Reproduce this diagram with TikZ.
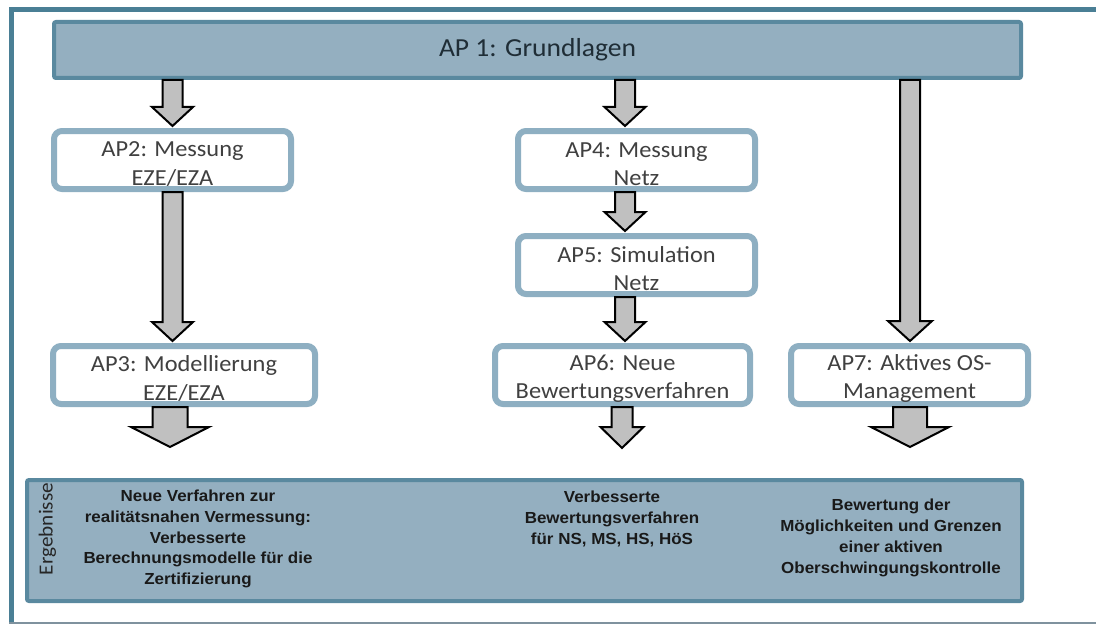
\documentclass[tikz,border=0pt]{standalone}
\usepackage{fontspec}
\setmainfont{Carlito}[FakeStretch=1.06]
\newfontfamily\resfont{Liberation Sans}[FakeStretch=1.06]
\usetikzlibrary{calc}
\definecolor{framec}{HTML}{4A7F95}
\definecolor{framebot}{HTML}{7F929E}
\definecolor{apfill}{HTML}{94AFC0}
\definecolor{apdraw}{HTML}{5A899F}
\definecolor{boxdraw}{HTML}{8EAFC2}
\definecolor{boxtext}{HTML}{404040}
\definecolor{toptext}{HTML}{1F2D36}
\definecolor{arrfill}{HTML}{C0C0C0}
\newcommand{\tstrut}{\rule{0pt}{23pt}}
\tikzset{
  apbox/.style={draw=boxdraw, line width=6pt, rounded corners=8pt, fill=white,
    text=boxtext, font=\fontsize{23}{28.5}\selectfont, align=center,
    inner sep=0pt, outer sep=0pt, minimum height=58pt},
  topbox/.style={draw=apdraw, line width=4pt, rounded corners=2pt, fill=apfill,
    inner sep=0pt, outer sep=0pt},
  restext/.style={font=\resfont\bfseries\fontsize{16}{20.8}\selectfont,
    align=center, text=black!90, inner sep=0pt},
  barrow/.style={fill=arrfill, draw=black, line width=2pt, line join=miter}
}
\newcommand{\barrow}[5]{%
  \draw[barrow] let \p1=#1, \p2=#2 in
    (\x2-#3,\y1) -- (\x2+#3,\y1) -- (\x2+#3,\y2+#5) -- (\x2+#4,\y2+#5)
    -- (\x2,\y2) -- (\x2-#4,\y2+#5) -- (\x2-#3,\y2+#5) -- cycle;}
\begin{document}
\begin{tikzpicture}[x=1pt,y=-1pt]
\useasboundingbox (0,0) rectangle (1096,626);
% frame of the page (open on the right)
\fill[framec] (8.5,7.5) rectangle (1096,12.5);
\fill[framec] (8.5,7.5) rectangle (13.5,624);
\fill[framebot] (8.5,621.5) rectangle (1096,624);

% top box
\node[topbox, minimum width=967pt, minimum height=56pt,
  font=\fontsize{26}{30}\selectfont, text=toptext] (ap1) at (537.5,50) {AP 1: Grundlagen};

% work package boxes
\node[apbox, minimum width=237pt] (ap2) at (172.5,160) {\tstrut AP2: Messung\\EZE/EZA};
\node[apbox, minimum width=262pt] (ap3) at (184,375) {\tstrut AP3: Modellierung\\EZE/EZA};
\node[apbox, minimum width=237pt] (ap4) at (636.5,160) {\tstrut AP4: Messung\\Netz};
\node[apbox, minimum width=237pt] (ap5) at (636.5,265) {\tstrut AP5: Simulation\\Netz};
\node[apbox, minimum width=255pt] (ap6) at (622.5,375) {\tstrut AP6: Neue\\Bewertungsverfahren};
\node[apbox, minimum width=237pt] (ap7) at (909.5,375) {\tstrut AP7: Aktives OS-\\Management};

% results box
\node[topbox, minimum width=995pt, minimum height=121pt] (res) at (524.5,540.5) {};
\node[rotate=90, font=\fontsize{20}{24}\selectfont, text=black!85, inner sep=0pt] (erg) at (47.5,529) {Ergebnisse};
\node[restext] (res1) at (198,539) {Neue Verfahren zur\\realitätsnahen Vermessung:\\Verbesserte\\Berechnungsmodelle für die\\Zertifizierung};
\node[restext] (res2) at (612,519) {Verbesserte\\Bewertungsverfahren\\für NS, MS, HS, HöS};
\node[restext] (res3) at (891,538) {Bewertung der\\Möglichkeiten und Grenzen\\einer aktiven\\Oberschwingungskontrolle};

% free ends of the result arrows
\coordinate (r1) at (170,447);
\coordinate (r2) at (622,448);
\coordinate (r3) at (910,447);

% block arrows
\barrow{($(ap1.south)+(0,2)$)}{($(ap2.north)+(0,-5)$)}{10pt}{20.5pt}{19pt}
\barrow{($(ap1.south)+(0,2)$)}{($(ap4.north)+(-11.5,-5)$)}{10pt}{20.5pt}{19pt}
\barrow{($(ap4.south)+(0,3)$)}{($(ap5.north)+(-11.5,-5)$)}{10pt}{20.5pt}{19pt}
\barrow{($(ap5.south)+(0,3)$)}{($(ap6.north)+(2.5,-5)$)}{10pt}{20.5pt}{19pt}
\barrow{($(ap2.south)+(0,3)$)}{($(ap3.north -| ap2.south)+(0,-5)$)}{10pt}{20.5pt}{19pt}
\barrow{($(ap1.south)+(0,2)$)}{($(ap7.north)+(0.5,-5)$)}{10pt}{22pt}{20pt}
\barrow{($(ap3.south)+(0,3)$)}{(r1)}{17.5pt}{39pt}{20pt}
\barrow{($(ap6.south)+(0,3)$)}{(r2)}{10.5pt}{21.5pt}{21pt}
\barrow{($(ap7.south)+(0,3)$)}{(r3)}{17pt}{39pt}{20pt}
\end{tikzpicture}
\end{document}
